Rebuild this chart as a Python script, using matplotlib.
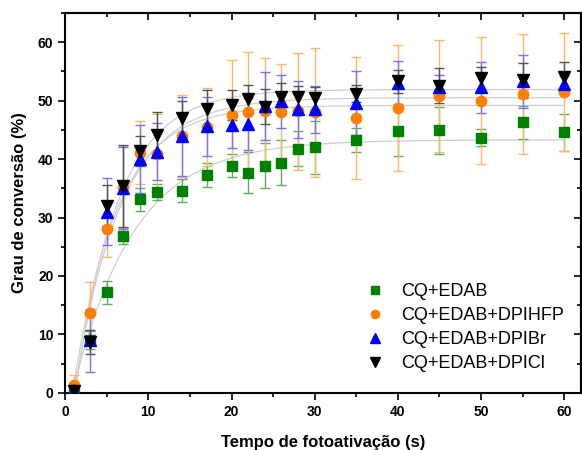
import numpy as np
import matplotlib
matplotlib.use("Agg")
import matplotlib.pyplot as plt
from matplotlib.ticker import MultipleLocator
from matplotlib.lines import Line2D

plt.rcParams['font.family'] = ['Liberation Sans', 'DejaVu Sans']

# tempo de fotoativacao (s)
t = np.array([1, 3, 5, 7, 9, 11, 14, 17, 20, 22, 24, 26, 28, 30, 35, 40, 45, 50, 55, 60])

# grau de conversao (%) e desvios
edab = [0.5, 9.0, 17.2, 26.8, 33.1, 34.4, 34.6, 37.3, 38.9, 37.7, 38.9, 39.4, 41.8, 42.0, 43.3, 44.8, 44.9, 43.7, 46.3, 44.6]
edab_err = [1.2, 1.5, 2.0, 1.4, 1.9, 1.4, 2.0, 2.1, 1.9, 3.5, 3.8, 3.9, 3.0, 4.5, 2.0, 4.3, 4.0, 1.5, 2.8, 3.2]

hfp = [1.4, 13.6, 28.1, 35.2, 41.1, 40.8, 43.9, 45.5, 47.6, 48.0, 48.3, 48.0, 48.2, 48.0, 47.0, 48.8, 50.8, 50.0, 51.1, 51.5]
hfp_err = [1.6, 5.3, 4.8, 7.0, 5.4, 7.0, 7.0, 6.7, 9.3, 10.3, 9.0, 8.3, 10.0, 11.0, 10.4, 10.8, 9.6, 10.9, 10.3, 10.1]

dpibr = [0.5, 9.0, 31.0, 35.1, 40.0, 41.3, 43.9, 45.6, 45.9, 46.0, 49.1, 49.9, 48.5, 48.5, 49.6, 53.1, 52.4, 52.3, 53.3, 52.8]
dpibr_err = [1.0, 5.4, 5.7, 7.0, 5.8, 4.8, 6.8, 5.0, 4.0, 4.4, 5.8, 4.5, 4.9, 4.0, 5.5, 3.7, 2.0, 4.4, 4.5, 1.5]

dpicl = [0.3, 8.7, 32.0, 35.4, 41.4, 44.2, 47.1, 48.5, 49.3, 50.3, 49.0, 50.6, 50.6, 50.4, 51.2, 53.3, 52.6, 53.8, 53.5, 54.0]
dpicl_err = [1.0, 2.0, 3.5, 7.0, 2.6, 3.8, 2.9, 3.4, 2.6, 2.4, 3.0, 2.4, 2.0, 2.0, 1.5, 2.0, 3.0, 2.0, 3.0, 2.6]

labels = ['CQ+EDAB', 'CQ+EDAB+DPIHFP', 'CQ+EDAB+DPIBr', 'CQ+EDAB+DPICl']


def ajuste(x, y):
    # y = A*(1-exp(-k*(x-t0))), busca simples em k e t0
    y = np.asarray(y, float)
    best = None
    for k in np.linspace(0.02, 1.0, 300):
        for t0 in np.linspace(0.0, 1.5, 16):
            g = 1 - np.exp(-k * (x - t0))
            A = (g @ y) / (g @ g)
            e = ((A * g - y) ** 2).sum()
            if best is None or e < best[0]:
                best = (e, A, k, t0)
    return best[1:]


fig = plt.figure(figsize=(5.82, 4.5), dpi=100)
ax = fig.add_axes([0.112, 0.127, 0.886, 0.844])

series = [
    (edab, edab_err, 's', '#008000', '#5fae5f', 6.5),
    (hfp, hfp_err, 'o', '#ff8000', '#ffb766', 7.5),
    (dpibr, dpibr_err, '^', '#0000ff', '#7373ff', 9),
    (dpicl, dpicl_err, 'v', '#000000', '#555555', 9),
]

tt = np.linspace(1, 60, 300)
for y, e, m, c, ec, ms in series:
    A, k, t0 = ajuste(t, y)
    ax.plot(tt, A * (1 - np.exp(-k * (tt - t0))), color='#cfcfcf', lw=0.9, zorder=1)

handles = []
for (y, e, m, c, ec, ms), lab in zip(series, labels):
    ax.errorbar(t, y, yerr=e, fmt=m, color=c, ms=ms, mec=c, ecolor=ec,
                elinewidth=1.0, capsize=3.5, capthick=1.0, zorder=3)
    handles.append(Line2D([], [], ls='none', marker=m, color=c, ms=ms * 0.8, label=lab))

ax.set_xlim(0, 62)
ax.set_ylim(0, 65)
ax.xaxis.set_major_locator(MultipleLocator(10))
ax.xaxis.set_minor_locator(MultipleLocator(5))
ax.yaxis.set_major_locator(MultipleLocator(10))
ax.yaxis.set_minor_locator(MultipleLocator(5))
ax.tick_params(which='both', direction='out', top=False, right=False, width=1.2)
ax.tick_params(which='major', length=5, labelsize=10)
ax.tick_params(which='minor', length=3)
for lbl in ax.get_xticklabels() + ax.get_yticklabels():
    lbl.set_fontweight('bold')
sec = ax.secondary_xaxis('top')
sec.xaxis.set_major_locator(MultipleLocator(10))
sec.xaxis.set_minor_locator(MultipleLocator(5))
sec.tick_params(which='both', direction='in', labeltop=False, width=1.2)
sec.tick_params(which='major', length=5)
sec.tick_params(which='minor', length=3)
sec2 = ax.secondary_yaxis('right')
sec2.yaxis.set_major_locator(MultipleLocator(10))
sec2.yaxis.set_minor_locator(MultipleLocator(5))
sec2.tick_params(which='both', direction='in', labelright=False, width=1.2)
sec2.tick_params(which='major', length=5)
sec2.tick_params(which='minor', length=3)
for s in ax.spines.values():
    s.set_linewidth(1.5)
sec.spines['top'].set_linewidth(1.5)
sec2.spines['right'].set_linewidth(1.5)

ax.set_xlabel('Tempo de fotoativação (s)', fontsize=12, fontweight='bold', labelpad=12)
ax.set_ylabel('Grau de conversão (%)', fontsize=12, fontweight='bold', labelpad=8)

ax.legend(handles=handles, loc='lower left', bbox_to_anchor=(0.55, 0.012), frameon=False,
          fontsize=13, handletextpad=0.9, labelspacing=0.38, handlelength=1.1)

fig.savefig('out.png', dpi=100)
